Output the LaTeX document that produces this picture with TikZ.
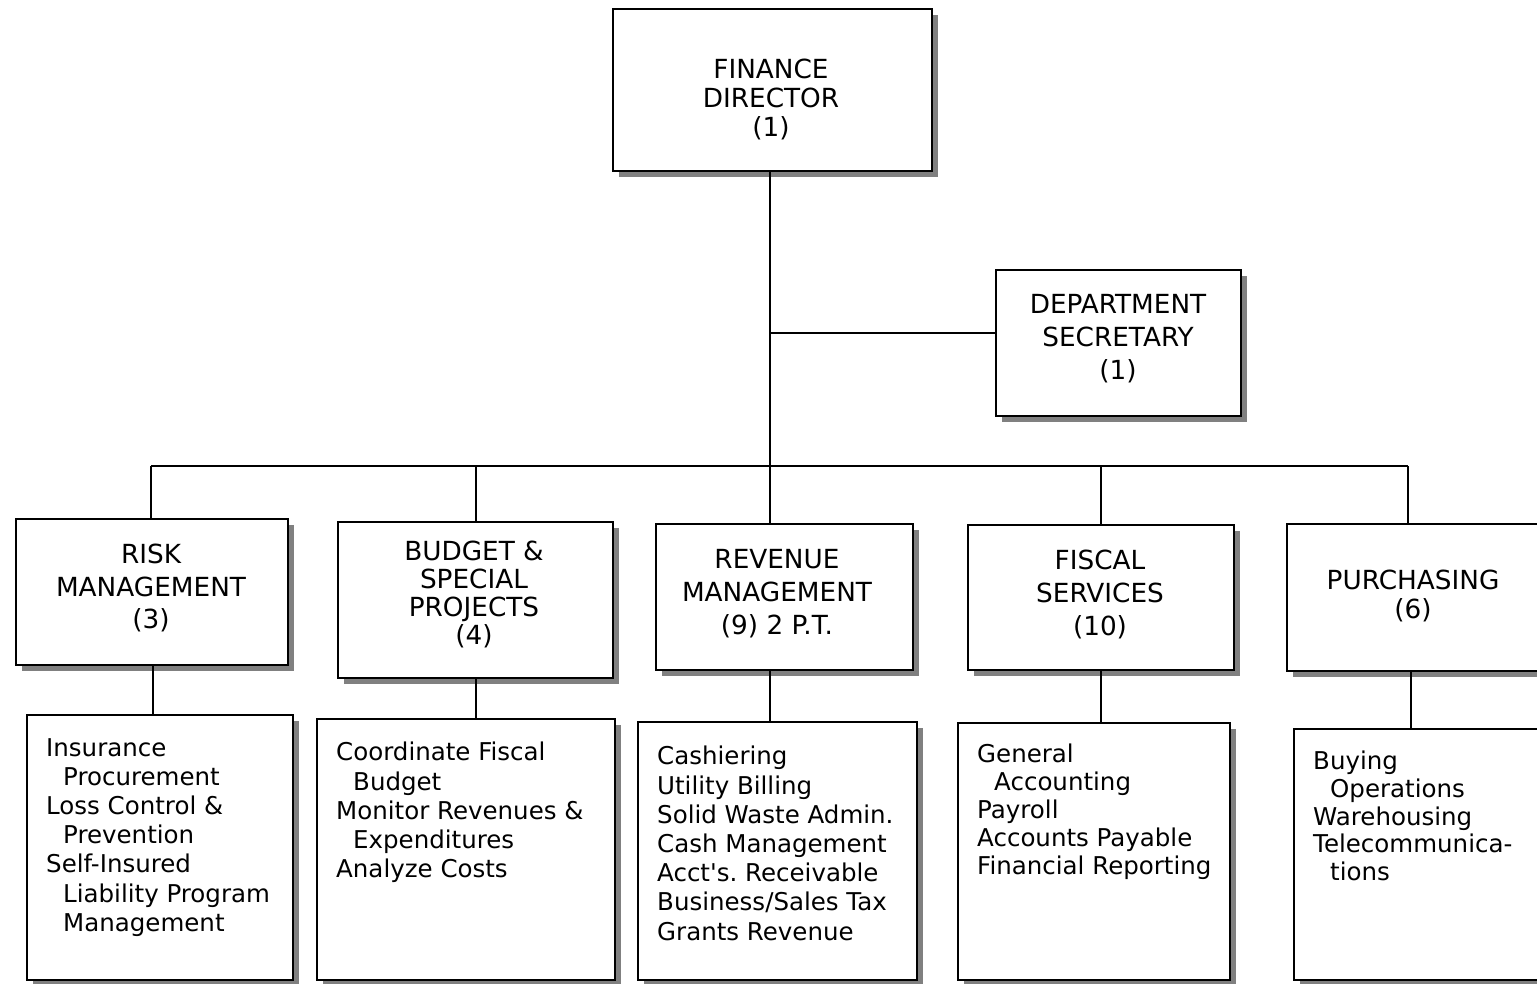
\documentclass[tikz,border=0pt]{standalone}
\usepackage{fontspec}
\setmainfont{DejaVu Sans}
\usetikzlibrary{shadows}
\frenchspacing
\begin{document}
\begin{tikzpicture}[x=1pt,y=-1pt,
  box/.style={draw, line width=2.4pt, fill=white, anchor=north west, inner sep=0pt,
    drop shadow={shadow xshift=6pt, shadow yshift=-6pt, fill=black!50, opacity=1}},
  ttl/.style={align=center, inner sep=0pt, font=\fontsize{26.3}{29}\selectfont},
  lst/.style={align=left, inner sep=0pt, anchor=north west, font=\fontsize{24.5}{29.2}\selectfont},
  conn/.style={line width=2pt}]
\useasboundingbox (0,0) rectangle (1537,983);
\clip (0,0) rectangle (1537,983);
% top level
\node[box, minimum width=319, minimum height=162] (fd) at (612,8) {};
\node[ttl] (fdT) at (771,99) {FINANCE\\DIRECTOR\\(1)};
\node[box, minimum width=245, minimum height=146] (ds) at (995,269) {};
\node[ttl, font=\fontsize{26.3}{33}\selectfont] (dsT) at (1118,339) {DEPARTMENT\\SECRETARY\\(1)};
% level 2
\node[box, minimum width=272, minimum height=146] (rm) at (15,518) {};
\node[ttl, font=\fontsize{26.3}{32.5}\selectfont] (rmT) at (151,588) {RISK\\MANAGEMENT\\(3)};
\node[box, minimum width=275, minimum height=156] (bs) at (337,521) {};
\node[ttl, font=\fontsize{26.3}{28}\selectfont] (bsT) at (474,594) {BUDGET \&\\SPECIAL\\PROJECTS\\(4)};
\node[box, minimum width=257, minimum height=146] (rv) at (655,523) {};
\node[ttl, font=\fontsize{26.3}{33}\selectfont] (rvT) at (777,594) {REVENUE\\MANAGEMENT\\(9) 2 P.T.};
\node[box, minimum width=266, minimum height=145] (fs) at (967,524) {};
\node[ttl, font=\fontsize{26.3}{33}\selectfont] (fsT) at (1100,594) {FISCAL\\SERVICES\\(10)};
\node[box, minimum width=270, minimum height=147] (pu) at (1286,523) {};
\node[ttl] (puT) at (1413,596) {PURCHASING\\(6)};
% level 3
\node[box, minimum width=266, minimum height=265] (rmL) at (26,714) {};
\node[lst] (rmLT) at (46,738) {Insurance\\\hspace*{17pt}Procurement\\Loss Control \&\\\hspace*{17pt}Prevention\\Self-Insured\\\hspace*{17pt}Liability Program\\\hspace*{17pt}Management};
\node[box, minimum width=298, minimum height=261] (bsL) at (316,718) {};
\node[lst] (bsLT) at (336,742) {Coordinate Fiscal\\\hspace*{17pt}Budget\\Monitor Revenues \&\\\hspace*{17pt}Expenditures\\Analyze Costs};
\node[box, minimum width=279, minimum height=258] (rvL) at (637,721) {};
\node[lst] (rvLT) at (657,746) {Cashiering\\Utility Billing\\Solid Waste Admin.\\Cash Management\\Acct\textquotesingle s.\ Receivable\\Business/Sales Tax\\Grants Revenue};
\node[box, minimum width=272, minimum height=257] (fsL) at (957,722) {};
\node[lst, font=\fontsize{24.5}{27.8}\selectfont] (fsLT) at (977,744) {General\\\hspace*{17pt}Accounting\\Payroll\\Accounts Payable\\Financial Reporting};
\node[box, minimum width=270, minimum height=251] (puL) at (1293,728) {};
\node[lst, font=\fontsize{24.5}{27.6}\selectfont] (puLT) at (1313,751) {Buying\\\hspace*{17pt}Operations\\Warehousing\\Telecommunica-\\\hspace*{17pt}tions};
% connectors
\coordinate (sj) at (770,333);
\coordinate (busL) at (151,466);
\coordinate (busR) at (1408,466);
\draw[conn] (fd.south -| sj) -- (sj |- rv.north);
\draw[conn] (sj) -- (sj -| ds.west);
\draw[conn] (busL) -- (busR);
\draw[conn] (busL) -- (busL |- rm.north);
\draw[conn] (busL -| bs.north) -- (bs.north);
\draw[conn] (busL -| fs.north) -- (fs.north);
\draw[conn] (busR) -- (busR |- pu.north);
\draw[conn] (153,664) -- (153,714);
\draw[conn] (bs.south) -- (bs.south |- bsL.north);
\draw[conn] (770,669) -- (770,721);
\draw[conn] (fs.south) -- (fs.south |- fsL.north);
\draw[conn] (1411,670) -- (1411,728);
\end{tikzpicture}
\end{document}
